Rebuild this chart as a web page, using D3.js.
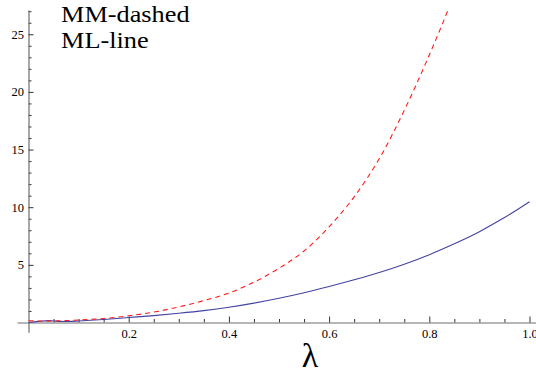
<!DOCTYPE html>
<html>
<head>
<meta charset="utf-8">
<script src="https://cdn.jsdelivr.net/npm/d3@7/dist/d3.min.js"></script>
</head>
<body style="margin:0">
<svg id="chart" width="536" height="376"></svg>
<script>
// lambda grid and the two estimates
var lambdaVals = [0, 0.02, 0.04, 0.06, 0.08, 0.1, 0.15, 0.2, 0.25, 0.3, 0.35, 0.4, 0.45, 0.5,
                  0.55, 0.6, 0.65, 0.7, 0.75, 0.8, 0.85, 0.9, 0.95, 1.0];
var mlValues = [0, 0.1, 0.16, 0.1, 0.09, 0.13, 0.26, 0.43, 0.6, 0.8, 1.03, 1.32, 1.68, 2.1,
                2.58, 3.12, 3.7, 4.33, 5.05, 5.88, 6.82, 7.88, 9.1, 10.48];
var mmValues = [0.15, 0.13, 0.12, 0.15, 0.18, 0.22, 0.35, 0.58, 0.9, 1.35, 1.9, 2.55, 3.5, 4.7,
                6.2, 8.3, 10.9, 14.2, 18.4, 23.2, 28.5, 34.5];

var xMajor = [0.2, 0.4, 0.6, 0.8, 1.0];
var xMinor = [0.05, 0.1, 0.15, 0.25, 0.3, 0.35, 0.45, 0.5, 0.55, 0.65, 0.7, 0.75, 0.85, 0.9, 0.95];
var yMajor = [5, 10, 15, 20, 25];
var yMinor = [1, 2, 3, 4, 6, 7, 8, 9, 11, 12, 13, 14, 16, 17, 18, 19, 21, 22, 23, 24, 26, 27];

var legendLines = ["MM-dashed", "ML-line"];

var plotRange = { x: [-0.023, 1.014], y: [-0.85, 27.1] };
var serif = "Liberation Serif";

var svg = d3.select("#chart");

var x = d3.scaleLinear().domain(plotRange.x)
    .range([28.5 + plotRange.x[0] * 501, 28.5 + plotRange.x[1] * 501]);
var y = d3.scaleLinear().domain(plotRange.y)
    .range([322.5 - plotRange.y[0] * 11.53, 322.5 - plotRange.y[1] * 11.53]);

svg.append("defs").append("clipPath").attr("id", "clip_plot")
    .append("rect")
    .attr("x", x(plotRange.x[0])).attr("y", y(plotRange.y[1]))
    .attr("width", x(plotRange.x[1]) - x(plotRange.x[0]))
    .attr("height", y(plotRange.y[0]) - y(plotRange.y[1]));

function styleAxis(g){
    g.attr("font-family", serif).attr("font-size", 12.5);
    g.selectAll(".domain").attr("stroke", "#6e6e6e").attr("stroke-width", 1.2);
    g.selectAll(".tick line").attr("stroke", "#333").attr("stroke-width", 1);
    g.selectAll(".tick text").attr("fill", "#000");
}

// x axis: minor then major ticks, pointing into the plot
var gxMinor = svg.append("g")
    .attr("transform", "translate(0," + y(0) + ")")
    .call(d3.axisBottom(x).tickValues(xMinor).tickSize(-3.5).tickSizeOuter(0).tickFormat(""));
gxMinor.select(".domain").remove();
styleAxis(gxMinor);

var gx = svg.append("g")
    .attr("transform", "translate(0," + y(0) + ")")
    .call(d3.axisBottom(x).tickValues(xMajor).tickSize(-6).tickSizeOuter(0)
          .tickPadding(7).tickFormat(d3.format(".1f")));
styleAxis(gx);

var gyMinor = svg.append("g")
    .attr("transform", "translate(" + x(0) + ",0)")
    .call(d3.axisLeft(y).tickValues(yMinor).tickSize(-3).tickSizeOuter(0).tickFormat(""));
gyMinor.select(".domain").remove();
styleAxis(gyMinor);

var gy = svg.append("g")
    .attr("transform", "translate(" + x(0) + ",0)")
    .call(d3.axisLeft(y).tickValues(yMajor).tickSize(-5).tickSizeOuter(0)
          .tickPadding(4.5).tickFormat(d3.format("d")));
styleAxis(gy);

// curves
var line = d3.line()
    .x(function(d){return x(d[0])})
    .y(function(d){return y(d[1])})
    .curve(d3.curveCatmullRom.alpha(0.5));

var curves = svg.append("g").attr("clip-path", "url(#clip_plot)");

curves.append("path")
    .datum(d3.zip(lambdaVals, mlValues))
    .attr("d", line)
    .attr("fill", "none")
    .attr("stroke", "#4343a3")
    .attr("stroke-width", 1.1);

curves.append("path")
    .datum(d3.zip(lambdaVals, mmValues))
    .attr("d", line)
    .attr("fill", "none")
    .attr("stroke", "#ff1a1a")
    .attr("stroke-width", 1.1)
    .attr("stroke-dasharray", "5,4");

// axis label
svg.append("text")
    .attr("x", 310).attr("y", 367)
    .attr("text-anchor", "middle")
    .attr("font-family", serif)
    .attr("font-size", 34)
    .text("λ");

// legend text, widened with a transform (no letter-spacing) to match the wider original face
svg.selectAll(".legend")
    .data(legendLines)
    .enter().append("text")
    .attr("class", "legend")
    .attr("transform", function(d, i){return "translate(61," + (21.7 + i * 26.7) + ") scale(1.17,1)"})
    .attr("font-family", serif)
    .attr("font-size", 22.5)
    .text(function(d){return d});
</script>
</body>
</html>
